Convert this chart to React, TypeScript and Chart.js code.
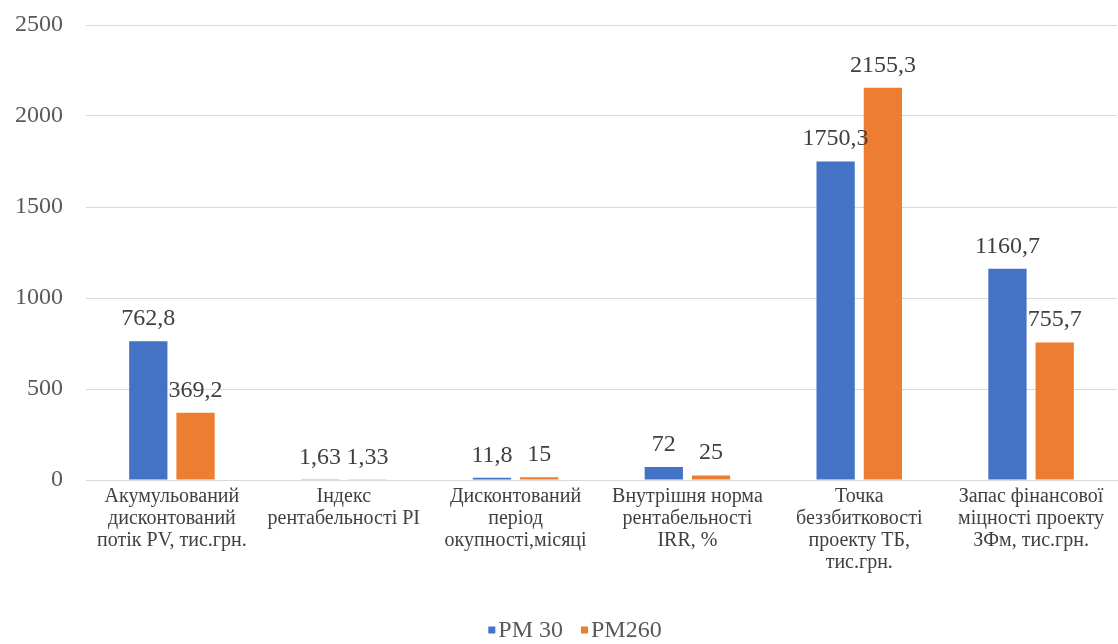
import React, { useEffect, useRef } from "react";
import { Chart, registerables } from "chart.js";

Chart.register(...registerables);

const categories: string[][] = [
  ["Акумульований", "дисконтований", "потік PV, тис.грн."],
  ["Індекс", "рентабельності PI"],
  ["Дисконтований", "період", "окупності,місяці"],
  ["Внутрішня норма", "рентабельності", "IRR, %"],
  ["Точка", "беззбитковості", "проекту ТБ,", "тис.грн."],
  ["Запас фінансової", "міцності проекту", "ЗФм, тис.грн."],
];
const seriesNames = ["РМ 30", "РМ260"];
const pm30 = [762.8, 1.63, 11.8, 72, 1750.3, 1160.7];
const pm260 = [369.2, 1.33, 15, 25, 2155.3, 755.7];
const seriesColors = ["#4472C4", "#ED7D31"];
const yMin = 0;
const yMax = 2500;
const yStep = 500;

const SERIF = "'Liberation Serif', 'Times New Roman', serif";

const fmt = (v: number) => String(v).replace(".", ",");

const dataLabelPlugin = {
  id: "dataLabels",
  afterDatasetsDraw(chart: any) {
    const ctx = chart.ctx;
    ctx.save();
    ctx.font = `24px ${SERIF}`;
    ctx.fillStyle = "#404040";
    ctx.textAlign = "center";
    ctx.textBaseline = "alphabetic";
    chart.data.datasets.forEach((ds: any, i: number) => {
      const meta = chart.getDatasetMeta(i);
      meta.data.forEach((bar: any, j: number) => {
        ctx.fillText(fmt(ds.data[j]), bar.x, bar.y - 16);
      });
    });
    ctx.restore();
  },
};

const legendPlugin = {
  id: "customLegend",
  afterDraw(chart: any) {
    const ctx = chart.ctx;
    ctx.save();
    ctx.font = `24px ${SERIF}`;
    ctx.textBaseline = "middle";
    ctx.textAlign = "left";
    const box = 7;
    const gapBoxText = 3;
    const gapItems = 18;
    const widths = chart.data.datasets.map(
      (ds: any) => box + gapBoxText + ctx.measureText(ds.label).width
    );
    const total = widths.reduce((a: number, b: number) => a + b, 0) + gapItems * (widths.length - 1);
    const cx = chart.width / 2 + 16;
    const cy = chart.height - 13;
    let x = cx - total / 2;
    chart.data.datasets.forEach((ds: any, i: number) => {
      ctx.fillStyle = ds.backgroundColor;
      ctx.fillRect(x, cy - box / 2 - 1, box, box);
      ctx.fillStyle = "#595959";
      ctx.fillText(ds.label, x + box + gapBoxText, cy);
      x += widths[i] + gapItems;
    });
    ctx.restore();
  },
};

export default function App() {
  const ref = useRef<HTMLCanvasElement | null>(null);

  useEffect(() => {
    if (!ref.current) return;
    const chart = new Chart(ref.current, {
      type: "bar",
      data: {
        labels: categories,
        datasets: [
          {
            label: seriesNames[0],
            data: pm30,
            backgroundColor: seriesColors[0],
            categoryPercentage: 0.55,
            barPercentage: 0.81,
          },
          {
            label: seriesNames[1],
            data: pm260,
            backgroundColor: seriesColors[1],
            categoryPercentage: 0.55,
            barPercentage: 0.81,
          },
        ],
      },
      options: {
        responsive: false,
        animation: false,
        devicePixelRatio: 1,
        layout: { padding: { top: 25, right: 1, left: 0, bottom: 0 } },
        plugins: {
          legend: { display: false },
          tooltip: { enabled: false },
        },
        scales: {
          x: {
            grid: { display: false, drawTicks: false },
            border: { display: true, color: "#d9d9d9", width: 1 },
            ticks: {
              autoSkip: false,
              maxRotation: 0,
              minRotation: 0,
              padding: 6,
              color: "#404040",
              font: { family: SERIF, size: 20, lineHeight: "22px" } as any,
            },
            afterFit: (s: any) => {
              s.height = 164;
              s.paddingLeft = 0;
              s.paddingRight = 0;
            },
          },
          y: {
            min: yMin,
            max: yMax,
            grid: { color: "#d9d9d9", lineWidth: 1, drawTicks: false },
            border: { display: false },
            ticks: {
              stepSize: yStep,
              padding: 23,
              color: "#595959",
              font: { family: SERIF, size: 24 },
              callback: (v: any) => String(v),
            },
            afterFit: (s: any) => {
              s.width = 86;
              s.paddingTop = 0;
              s.paddingBottom = 0;
            },
          },
        },
      },
      plugins: [dataLabelPlugin, legendPlugin],
    });
    return () => chart.destroy();
  }, []);

  return (
    <div style={{ position: "fixed", left: 0, top: 0, width: 1118, height: 644, background: "#ffffff" }}>
      <canvas ref={ref} width={1118} height={644} style={{ display: "block", width: 1118, height: 644 }} />
    </div>
  );
}
